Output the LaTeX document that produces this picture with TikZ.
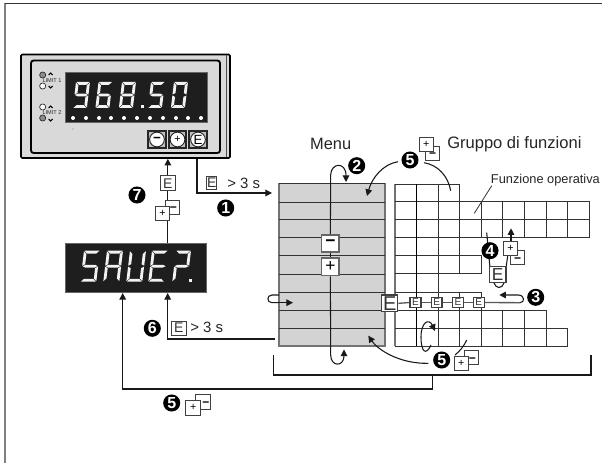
\documentclass[tikz,border=0pt]{standalone}
\usepackage{fontspec}
\setmainfont{Liberation Sans}
\usetikzlibrary{arrows.meta}
\pgfdeclarelayer{fillback}\pgfdeclarelayer{lines}\pgfsetlayers{fillback,lines,main}
\definecolor{menugray}{HTML}{D3D3D3}
\definecolor{panelgray}{HTML}{D9D9D9}
\definecolor{segcol}{HTML}{F2F2F2}
\definecolor{dispblack}{HTML}{1E1E1E}
\newcommand\segA{\fill[segcol] ({\sgG},0) -- ({\sgW-\sgG},0) -- ({\sgW-\sgG-\sgT},\sgT) -- ({\sgG+\sgT},\sgT) -- cycle;}
\newcommand\segB{\fill[segcol] (\sgW,\sgG) -- (\sgW,{\sgH/2-\sgG}) -- ({\sgW-\sgT},{\sgH/2-\sgG-\sgT/2}) -- ({\sgW-\sgT},{\sgG+\sgT}) -- cycle;}
\newcommand\segC{\fill[segcol] (\sgW,{\sgH/2+\sgG}) -- (\sgW,{\sgH-\sgG}) -- ({\sgW-\sgT},{\sgH-\sgG-\sgT}) -- ({\sgW-\sgT},{\sgH/2+\sgG+\sgT/2}) -- cycle;}
\newcommand\segD{\fill[segcol] ({\sgG},\sgH) -- ({\sgW-\sgG},\sgH) -- ({\sgW-\sgG-\sgT},{\sgH-\sgT}) -- ({\sgG+\sgT},{\sgH-\sgT}) -- cycle;}
\newcommand\segE{\fill[segcol] (0,{\sgH/2+\sgG}) -- (0,{\sgH-\sgG}) -- (\sgT,{\sgH-\sgG-\sgT}) -- (\sgT,{\sgH/2+\sgG+\sgT/2}) -- cycle;}
\newcommand\segF{\fill[segcol] (0,\sgG) -- (0,{\sgH/2-\sgG}) -- (\sgT,{\sgH/2-\sgG-\sgT/2}) -- (\sgT,{\sgG+\sgT}) -- cycle;}
\newcommand\segG{\fill[segcol] ({\sgG},{\sgH/2}) -- ({\sgG+\sgT},{\sgH/2-\sgT/2}) -- ({\sgW-\sgG-\sgT},{\sgH/2-\sgT/2}) -- ({\sgW-\sgG},{\sgH/2}) -- ({\sgW-\sgG-\sgT},{\sgH/2+\sgT/2}) -- ({\sgG+\sgT},{\sgH/2+\sgT/2}) -- cycle;}
% x, y, width, height, segments
\newcommand\sevenseg[5]{\begin{scope}[shift={(#1,#2)},xslant=0.12]
\def\sgW{#3}\def\sgH{#4}\def\sgT{2.8}\def\sgG{0.5}
\foreach \s in {#5}{\csname seg\s\endcsname}
\end{scope}}
% style, name, x0, y0, x1, y1, text
\newcommand\bx[7]{\node[#1,minimum width={(#5-#3)*0.75pt},minimum height={(#6-#4)*0.75pt}] (#2) at ({(#3+#5)/2},{(#4+#6)/2}) {#7};}
% minus sign of a key pair: moved clear of the plus key lying over it
\newcommand\offminus[1]{\hspace*{#1}\raisebox{-3.7pt}[0pt][0pt]{−}}
\tikzset{
 keybase/.style={draw=black!75,fill=white,inner sep=0pt,line width=0.7pt,text=black!80},
 ekey/.style={keybase,font=\fontsize{10.5pt}{10.5pt}\selectfont},
 esmall/.style={keybase,font=\fontsize{7.5pt}{7.5pt}\selectfont,line width=0.8pt},
 ebig/.style={keybase,line width=1pt,font=\fontsize{15pt}{15pt}\selectfont},
 pm/.style={keybase,text=black,font=\fontsize{8pt}{8pt}\selectfont},
 mm/.style={keybase,text=black,font=\bfseries\fontsize{9pt}{9pt}\selectfont},
 menukey/.style={keybase,line width=1.1pt,draw=black!60,font=\bfseries\fontsize{13pt}{13pt}\selectfont,text=black},
 badge/.style={circle,fill=black,text=white,inner sep=0pt,minimum size=12.8pt,font=\bfseries\fontsize{12pt}{12pt}\selectfont},
 lab/.style={inner sep=0pt,text=black!85},
 display/.style={fill=dispblack,draw=black!60,line width=0.5pt,inner sep=0pt},
 btn/.style={fill=black!25,draw=black!85,line width=0.8pt,inner sep=0pt},
 btnface/.style={circle,fill=white,draw=black!85,line width=0.7pt,inner sep=0pt,minimum size=11pt,font=\fontsize{8pt}{8pt}\selectfont},
 led/.style={circle,draw=black!85,line width=0.5pt,inner sep=0pt,minimum size=4.6pt},
 con/.style={line width=0.8pt,draw=black!90},
 arr/.style={con,-{Triangle[length=5pt,width=5pt]}},
 gridline/.style={line width=0.7pt,draw=black!80},
 chev/.style={line width=0.75pt,draw=black},
}
\begin{document}
\begin{tikzpicture}[x=0.75pt,y=-0.75pt]
\useasboundingbox (0,0) rectangle (602,463);
\begin{pgfonlayer}{fillback}
\fill[white] (0,0) rectangle (602,463);
\end{pgfonlayer}
\draw[line width=1.1pt,draw=black!50] (5,463) -- (5,3.5);
\draw[line width=0.9pt,draw=black!80] (4.5,3.5) -- (602,3.5);

% ---------- instrument panel ----------
\bx{draw=black,line width=1.2pt,fill=panelgray,rounded corners=1pt,inner sep=0pt}{panel}{21}{54.5}{230}{158}{}
\draw[line width=0.6pt,draw=black!70] (226,55) -- (226,157);
\bx{draw=black,line width=1.4pt,rounded corners=2pt,inner sep=0pt}{bezel}{31}{60.5}{220}{153}{}
\bx{display}{disp1}{65}{72}{207}{122}{}
\node[text opacity=0,inner sep=0pt,font=\fontsize{22pt}{22pt}\selectfont] (read1) at (disp1) {968.50};
\sevenseg{76}{82}{14}{26}{A,B,C,D,F,G}
\sevenseg{98.5}{82}{14}{26}{A,C,D,E,F,G}
\sevenseg{122}{82}{14}{26}{A,B,C,D,E,F,G}
\sevenseg{151}{82}{14}{26}{A,C,D,F,G}
\sevenseg{174}{82}{14}{26}{A,B,C,D,E,F}
\fill[segcol] (141,105.5) rectangle (143.5,108);
\foreach \x in {73,86,99,111,124,137,150,163,176,188,201}
  \fill[white] (\x,118) circle (2);
\node[led,fill=black!45] (l1) at (42.7,75) {};
\node[led,fill=white] (l2) at (42.7,86) {};
\node[led,fill=white] (l3) at (42.7,107) {};
\node[led,fill=black!45] (l4) at (42.7,118) {};
\node[lab,font=\fontsize{4.2pt}{4.2pt}\selectfont] (lim1) at (52,80.7) {LIMIT 1};
\node[lab,font=\fontsize{4.2pt}{4.2pt}\selectfont] (lim2) at (52,113) {LIMIT 2};
\foreach \y in {74,107}\draw[chev] (48.7,\y+1) -- (50.7,\y-1) -- (52.7,\y+1);
\foreach \y in {87,120}\draw[chev] (48.7,\y-1) -- (50.7,\y+1) -- (52.7,\y-1);
\fill[black!50] (73,129) circle (0.6);
\bx{btn}{bm}{148}{131}{166}{148}{}
\bx{btn}{bp}{169}{131}{186}{148}{}
\bx{btn}{be}{189}{131}{207}{148}{}
\node[btnface,font=\bfseries\fontsize{10pt}{10pt}\selectfont] (fm) at (bm) {−};
\node[btnface] (fp) at (bp) {+};
\node[btnface,font=\fontsize{10pt}{10pt}\selectfont] (fe) at (be) {E};

% ---------- SAVE display ----------
\bx{display}{disp2}{65}{243.5}{206.7}{292.7}{}
\node[text opacity=0,inner sep=0pt,font=\fontsize{22pt}{22pt}\selectfont] (read2) at (disp2) {SAVE?.};
\sevenseg{84}{250.7}{16}{31}{A,C,D,F,G}
\sevenseg{107}{250.7}{16}{31}{A,B,C,E,F,G}
\sevenseg{130}{250.7}{16}{31}{B,C,D,E,F}
\sevenseg{152}{250.7}{16}{31}{A,D,E,F,G}
\sevenseg{176}{250.7}{15}{31}{A,B,E,G}
\fill[segcol] (188.5,278.5) rectangle (191.5,281.7);

% ---------- menu and grid ----------
\begin{pgfonlayer}{fillback}
\bx{fill=menugray,draw=black!55,line width=0.8pt,inner sep=0pt}{menu}{279}{183.5}{385}{346}{}
\end{pgfonlayer}
\begin{pgfonlayer}{lines}
\draw[gridline] (279,183.5) -- (385,183.5);
\foreach \y in {202,219.5,237.3,255.5,274,292,310,328}
  \draw[gridline] (279,\y) -- (385,\y);
\draw[line width=1pt,draw=black!55] (395,184) -- (395,346.3);
\draw[gridline] (395,184) -- (459.7,184);
\foreach \y in {201.7,219.7,237.3} \draw[gridline] (395,\y) -- (589.5,\y);
\foreach \y in {255.7,273.7,292.3} \draw[gridline] (395,\y) -- (481.5,\y);
\draw[gridline] (395,310) -- (546,310);
\foreach \y in {328.3,346.3} \draw[gridline] (395,\y) -- (567.7,\y);
\draw[line width=0.8pt] (416.7,184) -- (416.7,346.3);
\draw[gridline] (438.3,184) -- (438.3,346.3);
\draw[gridline] (459.7,184) -- (459.7,273.7);
\draw[gridline] (459.7,292.3) -- (459.7,346.3);
\draw[gridline] (481.5,201.7) -- (481.5,237.3);
\draw[gridline] (481.5,255.7) -- (481.5,273.7);
\draw[gridline] (481.5,292.3) -- (481.5,346.3);
\foreach \x in {502.7,524.3,546,567.7,589.5} \draw[gridline] (\x,201.7) -- (\x,237.3);
\foreach \x in {502.7,524.3} \draw[gridline] (\x,310) -- (\x,346.3);
\draw[gridline] (546,310) -- (546,346.3);
\draw[gridline] (567.7,328.3) -- (567.7,346.3);
\end{pgfonlayer}

% ---------- labels ----------
\node[lab,font=\fontsize{12.3pt}{12.3pt}\selectfont] (tmenu) at (330.7,144) {Menu};
\node[lab,anchor=west,font=\fontsize{12.4pt}{12.4pt}\selectfont] (tgrp) at (447,144) {Gruppo di funzioni};
\node[lab,anchor=west,font=\fontsize{9.6pt}{9.6pt}\selectfont] (tfun) at (490.7,180) {Funzione operativa};

% ---------- keys ----------
\bx{ekey}{k7e}{160.7}{175.7}{175}{190.7}{E}
\bx{mm}{k7m}{165}{200}{179}{214}{\offminus{2pt}}
\bx{pm}{k7p}{155.7}{206}{169.3}{220}{+}
\bx{ekey}{k1e}{206.7}{176.7}{216.7}{189}{E}
\node[lab,anchor=west,font=\fontsize{11.2pt}{11.2pt}\selectfont] (t1) at (227,183) {> 3 s};
\bx{ekey}{k6e}{171}{321}{186.7}{335}{E}
\node[lab,anchor=west,font=\fontsize{11.2pt}{11.2pt}\selectfont] (t6) at (190,327.5) {> 3 s};
\bx{mm}{k5cm}{195.7}{394.3}{210}{409}{\offminus{4.4pt}}
\bx{pm}{k5cp}{185.7}{400.7}{200.7}{415}{+}
\bx{mm}{k5am}{425.7}{146}{439.3}{160}{\offminus{0pt}}
\bx{pm}{k5ap}{419.3}{137.3}{433.3}{151.7}{+}
\bx{mm}{k5bm}{464}{350.7}{478}{364.3}{\offminus{2pt}}
\bx{pm}{k5bp}{454.3}{356.7}{468.3}{370.7}{+}
\bx{mm}{k4m}{510.7}{250}{524.7}{264.3}{\offminus{0pt}}
\bx{pm}{k4p}{503.3}{241.7}{517.7}{255.7}{+}
\bx{ekey,line width=1pt,font=\fontsize{13pt}{13pt}\selectfont}{k4e}{489.3}{266.7}{506}{282.7}{E}
\bx{menukey}{kminus}{321.7}{235}{339}{252}{−}
\bx{menukey,font=\fontsize{13pt}{13pt}\selectfont}{kplus}{321.7}{258}{339}{275.7}{+}
\bx{ebig}{ebig1}{381.7}{295}{397.7}{311.7}{E}
\bx{esmall}{es1}{410}{297.3}{421}{307.7}{E}
\bx{esmall}{es2}{431.3}{297.3}{442}{307.7}{E}
\bx{esmall}{es3}{452.7}{297.3}{463.3}{307.7}{E}
\bx{esmall}{es4}{473.3}{297.3}{484.3}{307.7}{E}

% ---------- badges ----------
\node[badge] (b1) at (225.7,208) {1};
\node[badge] (b2) at (356.7,165.7) {2};
\node[badge] (b3) at (535.7,297.3) {3};
\node[badge] (b4) at (490,250.7) {4};
\node[badge] (b5a) at (410,160) {5};
\node[badge] (b5b) at (441.7,360) {5};
\node[badge] (b5c) at (171.7,403) {5};
\node[badge] (b6) at (152.3,328.3) {6};
\node[badge] (b7) at (137,195) {7};

% ---------- coordinates ----------
\coordinate (c1a) at (197,193);
\coordinate (c1b) at (272,193);
\coordinate (c6a) at (275,339);
\coordinate (c6b) at (167.7,339);
\coordinate (c5a) at (122.7,389);
\coordinate (c5b) at (432.7,389);
\coordinate (br1) at (273.3,355);
\coordinate (br2) at (273.3,375);
\coordinate (br3) at (591,375);
\coordinate (br4) at (591,355);
\coordinate (brm) at (432.7,375);
\coordinate (mt) at (330.7,175);
\coordinate (mtip) at (346,182);
\coordinate (mb) at (330.7,355);
\coordinate (mbtip) at (344,349.5);
\coordinate (loopa) at (279,295);
\coordinate (loopb) at (279,302.7);
\coordinate (looptip) at (293,302.7);
\coordinate (s5a) at (398,161.7);
\coordinate (t5a) at (367,196);
\coordinate (s5ar) at (424,162.7);
\coordinate (t5ar) at (450.7,190.7);
\coordinate (s5b) at (428.3,363.3);
\coordinate (t5b) at (368.3,335.7);
\coordinate (s5br) at (455,355);
\coordinate (t5br) at (466.7,340);
\coordinate (fl1) at (491.7,185.7);
\coordinate (fl2) at (474.3,213.3);
\coordinate (e3a) at (520,302.7);
\coordinate (e3tip) at (499.3,295);
\coordinate (l4a) at (486.7,232.7);
\coordinate (a4tip) at (511,228.3);
\coordinate (r1) at (431,345);
\coordinate (r2) at (435,331);

% ---------- connectors ----------
\begin{pgfonlayer}{lines}
\draw[arr] (k7e.north) -- (k7e.north |- panel.south);
\draw[con] (k7e.south) -- (k7e.south |- disp2.north);
\draw[arr] (panel.south -| c1a) -- (c1a) -- (c1b);
\draw[arr] (c6a) -- (c6b) -- (c6b |- disp2.south);
\draw[arr] (brm) -- (c5b) -- (c5a) -- (c5a |- disp2.south);
\draw[con] (br1) -- (br2) -- (br3) -- (br4);
\draw[arr] (kminus.north) -- (mt) .. controls (330.7,163) and (346,161) .. (mtip);
\draw[arr] (kplus.south) -- (mb) .. controls (330.7,367) and (344,367) .. (mbtip);
\draw[con] (kminus.south) -- (kplus.north);
\draw[con] (loopa) -- (272,295) .. controls (266.5,295) and (266.5,302.7) .. (272,302.7) -- (loopb);
\draw[arr] (loopb) -- (looptip);
\draw[arr] (s5a) .. controls (383,164) and (372,178) .. (t5a);
\draw[con] (s5ar) .. controls (438,165) and (448,176) .. (t5ar);
\draw[arr] (s5b) .. controls (400,364) and (378,350) .. (t5b);
\draw[con] (s5br) .. controls (460,351) and (464,346) .. (t5br);
\draw[line width=0.6pt,draw=black!80] (fl1) -- (fl2);
\draw[line width=1pt,draw=black!65] (ebig1.east) -- (es1.west);
\draw[line width=1pt,draw=black!65] (es1.east) -- (es2.west);
\draw[line width=1pt,draw=black!65] (es2.east) -- (es3.west);
\draw[line width=1pt,draw=black!65] (es3.east) -- (es4.west);
\draw[line width=1pt,draw=black!65] (es4.east) -- (e3a);
\draw[arr] (e3a) .. controls (525,302.7) and (525,295) .. (518,295) -- (e3tip);
\draw[con] (l4a) -- (490,268) -- (494,283) .. controls (496,289) and (502,289) .. (504,283) -- (506,268) -- (509.5,243);
\draw[arr] (a4tip |- k4p.north) -- (a4tip);
\draw[arr] (r1) .. controls (426,356) and (421,352) .. (421,337) .. controls (421,322) and (429,318) .. (r2);
\end{pgfonlayer}
\end{tikzpicture}
\end{document}
